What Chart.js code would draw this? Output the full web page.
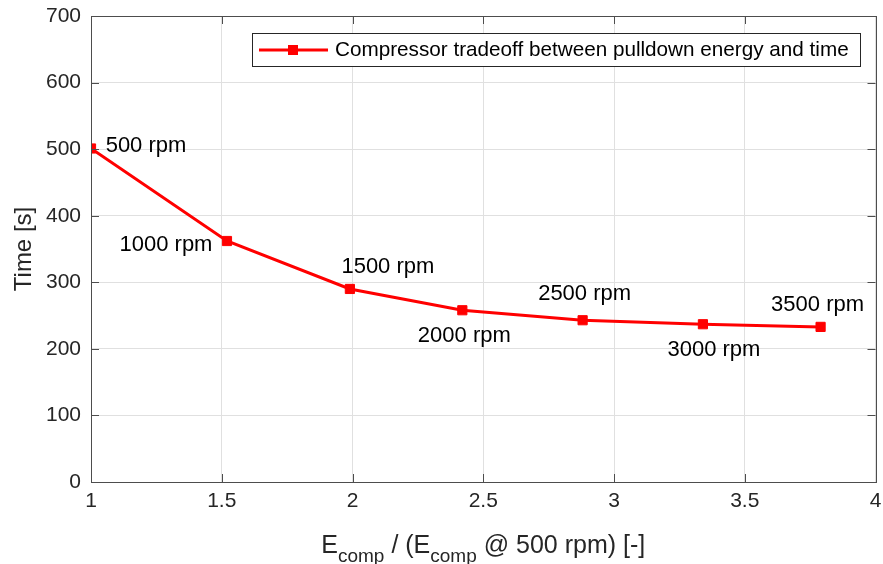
<!DOCTYPE html>
<html>
<head>
<meta charset="utf-8">
<script src="https://cdn.jsdelivr.net/npm/chart.js@4/dist/chart.umd.min.js"></script>
<style>
  html, body { margin: 0; padding: 0; background: #ffffff; }
  #wrap { width: 883px; height: 564px; position: relative; }
</style>
</head>
<body>
<div id="wrap"><canvas id="c" width="883" height="564"></canvas></div>
<script>
// ---- data ----
const energyRatio = [1.00, 1.52, 1.99, 2.42, 2.88, 3.34, 3.79];
const pulldownTime = [501, 362, 290, 258, 243, 237, 233];
const speedLabels = ['500 rpm', '1000 rpm', '1500 rpm', '2000 rpm', '2500 rpm', '3000 rpm', '3500 rpm'];
const seriesName = 'Compressor tradeoff between pulldown energy and time';
const xRange = [1, 4];
const yRange = [0, 700];
const xStep = 0.5;
const yStep = 100;

const FONT = '"Liberation Sans", Arial, Helvetica, sans-serif';
const TEXT = '#262626';
const AXIS = '#4d4d4d';
const GRID = '#e0e0e0';
const RED = '#ff0000';

// label offsets (px) relative to each marker: text centre
const labelOffsets = [[55, -3], [-61, 4], [38, -22], [2, 26], [2, -26], [11, 26], [-3, -22]];

const decorPlugin = {
  id: 'decor',
  afterDraw(chart) {
    const ctx = chart.ctx;
    const a = chart.chartArea;
    const xs = chart.scales.x, ys = chart.scales.y;
    ctx.save();
    // inward ticks on all four sides
    ctx.strokeStyle = AXIS;
    ctx.lineWidth = 1;
    const tl = 8;
    ctx.beginPath();
    xs.ticks.forEach(t => {
      const px = Math.round(xs.getPixelForValue(t.value)) + 0.5;
      ctx.moveTo(px, a.bottom); ctx.lineTo(px, a.bottom - tl);
      ctx.moveTo(px, a.top); ctx.lineTo(px, a.top + tl);
    });
    ys.ticks.forEach(t => {
      const py = Math.round(ys.getPixelForValue(t.value)) + 0.5;
      ctx.moveTo(a.left, py); ctx.lineTo(a.left + tl, py);
      ctx.moveTo(a.right, py); ctx.lineTo(a.right - tl, py);
    });
    ctx.stroke();
    // box
    ctx.strokeRect(Math.round(a.left) + 0.5, Math.round(a.top) + 0.5,
                   Math.round(a.right - a.left), Math.round(a.bottom - a.top));

    // point annotations
    const meta = chart.getDatasetMeta(0);
    ctx.fillStyle = '#000000';
    ctx.font = '22px ' + FONT;
    ctx.textAlign = 'center';
    ctx.textBaseline = 'middle';
    meta.data.forEach((pt, i) => {
      const off = labelOffsets[i];
      ctx.fillText(speedLabels[i], pt.x + off[0], pt.y + off[1]);
    });

    // legend
    const lx = 252, ly = 33, lw = 608, lh = 33;
    ctx.fillStyle = '#ffffff';
    ctx.fillRect(lx, ly, lw, lh);
    ctx.strokeStyle = '#262626';
    ctx.lineWidth = 1;
    ctx.strokeRect(lx + 0.5, ly + 0.5, lw, lh);
    const cy = ly + lh / 2 + 0.5;
    ctx.strokeStyle = RED;
    ctx.lineWidth = 3;
    ctx.beginPath();
    ctx.moveTo(259, cy); ctx.lineTo(328, cy);
    ctx.stroke();
    ctx.fillStyle = RED;
    ctx.fillRect(293 - 5, cy - 5, 10, 10);
    ctx.fillStyle = '#000000';
    ctx.font = '20.7px ' + FONT;
    ctx.textAlign = 'left';
    ctx.textBaseline = 'middle';
    ctx.fillText(seriesName, 335, cy);

    // y title
    ctx.save();
    ctx.translate(31, (a.top + a.bottom) / 2);
    ctx.rotate(-Math.PI / 2);
    ctx.fillStyle = TEXT;
    ctx.font = '24px ' + FONT;
    ctx.textAlign = 'center';
    ctx.textBaseline = 'alphabetic';
    ctx.fillText('Time [s]', 0, 0);
    ctx.restore();

    // x title with subscripts
    const parts = [
      ['E', false], ['comp', true], [' / (E', false], ['comp', true], [' @ 500 rpm) [-]', false]
    ];
    const mainF = '25px ' + FONT, subF = '19px ' + FONT;
    let total = 0;
    parts.forEach(p => { ctx.font = p[1] ? subF : mainF; total += ctx.measureText(p[0]).width; });
    let x = (a.left + a.right) / 2 - total / 2;
    const base = 553;
    ctx.fillStyle = TEXT;
    ctx.textAlign = 'left';
    ctx.textBaseline = 'alphabetic';
    parts.forEach(p => {
      ctx.font = p[1] ? subF : mainF;
      ctx.fillText(p[0], x, p[1] ? base + 9 : base);
      x += ctx.measureText(p[0]).width;
    });
    ctx.restore();
  }
};

new Chart(document.getElementById('c'), {
  type: 'scatter',
  data: {
    datasets: [{
      label: seriesName,
      data: energyRatio.map((v, i) => ({ x: v, y: pulldownTime[i] })),
      showLine: true,
      borderColor: RED,
      backgroundColor: RED,
      borderWidth: 3,
      pointStyle: 'rect',
      pointRadius: 6.5,
      pointBorderWidth: 1,
      pointBorderColor: RED,
      pointBackgroundColor: RED,
      tension: 0
    }]
  },
  options: {
    responsive: false,
    animation: false,
    devicePixelRatio: 1,
    layout: { padding: { top: 16, right: 6, left: 0, bottom: 0 } },
    plugins: { legend: { display: false }, tooltip: { enabled: false } },
    scales: {
      x: {
        type: 'linear', min: xRange[0], max: xRange[1],
        afterFit(s) { s.height = 82; s.paddingLeft = 0; s.paddingRight = 0; },
        grid: { color: GRID, drawTicks: false },
        border: { display: false },
        ticks: {
          stepSize: xStep, padding: 7, color: TEXT,
          font: { family: FONT, size: 21 },
          maxRotation: 0, autoSkip: false,
          callback: v => String(Math.round(v * 10) / 10)
        }
      },
      y: {
        type: 'linear', min: yRange[0], max: yRange[1],
        afterFit(s) { s.width = 91; s.paddingTop = 0; s.paddingBottom = 0; },
        grid: { color: GRID, drawTicks: false },
        border: { display: false },
        ticks: {
          stepSize: yStep, padding: 10, color: TEXT,
          font: { family: FONT, size: 21 }
        }
      }
    }
  },
  plugins: [decorPlugin]
});
</script>
</body>
</html>
